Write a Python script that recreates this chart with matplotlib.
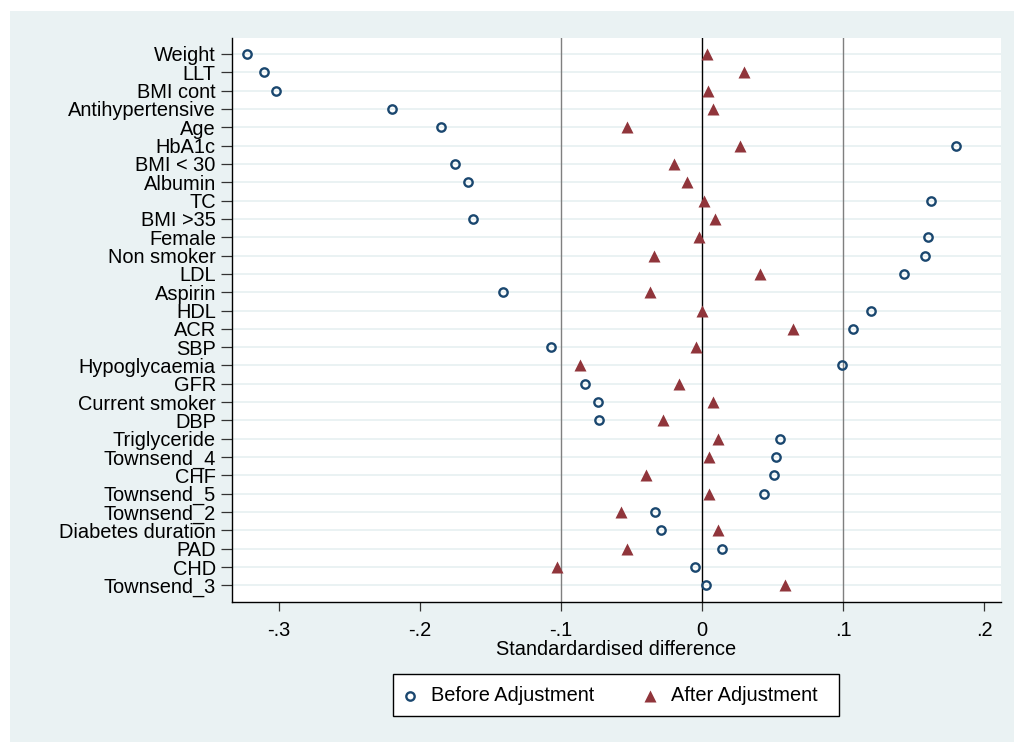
import matplotlib
matplotlib.use("Agg")
import matplotlib.pyplot as plt
from matplotlib.patches import Rectangle
from matplotlib.lines import Line2D

plt.rcParams['font.family'] = ['Liberation Sans', 'DejaVu Sans']

variables = ["Weight", "LLT", "BMI cont", "Antihypertensive", "Age", "HbA1c",
             "BMI < 30", "Albumin", "TC", "BMI >35", "Female", "Non smoker",
             "LDL", "Aspirin", "HDL", "ACR", "SBP", "Hypoglycaemia", "GFR",
             "Current smoker", "DBP", "Triglyceride", "Townsend_4", "CHF",
             "Townsend_5", "Townsend_2", "Diabetes duration", "PAD", "CHD",
             "Townsend_3"]

before_adj = [-0.3227, -0.3106, -0.3019, -0.2201, -0.1850, 0.1798,
              -0.1755, -0.1658, 0.1623, -0.1627, 0.1597, 0.1581,
              0.1429, -0.1415, 0.1198, 0.1070, -0.1075, 0.0990, -0.0831,
              -0.0739, -0.0730, 0.0551, 0.0525, 0.0508,
              0.0437, -0.0333, -0.0291, 0.0142, -0.0050,
              0.0024]

after_adj = [0.0035, 0.0296, 0.0038, 0.0078, -0.0532, 0.0267,
             -0.0201, -0.0108, 0.0012, 0.0090, -0.0026, -0.0340,
             0.0407, -0.0373, -0.0004, 0.0645, -0.0045, -0.0869, -0.0163,
             0.0078, -0.0279, 0.0113, 0.0047, -0.0399,
             0.0047, -0.0574, 0.0113, -0.0532, -0.1028,
             0.0588]

series_names = ["Before Adjustment", "After Adjustment"]

x_ticks = [-0.3, -0.2, -0.1, 0.0, 0.1, 0.2]
x_tick_labels = ["-.3", "-.2", "-.1", "0", ".1", ".2"]

BG = "#EAF2F3"
NAVY = "#1A476F"
MAROON = "#90353B"
FS = 14.4
W, H = 1014, 742

fig = plt.figure(figsize=(W / 100, H / 100), dpi=100, facecolor="white")


def fx(px):
    return px / W


def fy(py):
    return 1 - py / H


# graph region background (leaves a thin white margin top and left)
fig.patches.append(Rectangle((fx(10), 0), 1 - fx(10), fy(11),
                             transform=fig.transFigure, facecolor=BG,
                             edgecolor="none", zorder=-10))

ax = fig.add_axes([fx(231.7), fy(602), fx(769), 564 / H])
ax.set_facecolor("white")

ypos = list(range(len(variables)))

# horizontal grid lines at every category
for y in ypos:
    ax.axhline(y, color=BG, lw=1.4, zorder=1)

# reference lines
ax.axvline(-0.1, color="#7F7F7F", lw=1.0, zorder=2)
ax.axvline(0.1, color="#7F7F7F", lw=1.0, zorder=2)
ax.axvline(0.0, color="black", lw=1.0, zorder=2)

circle_style = dict(linestyle="none", marker="o", ms=6.0, mfc="none",
                    mec=NAVY, mew=1.7)
tri_style = dict(linestyle="none", marker="^", ms=8.2, mfc=MAROON,
                 mec="none")

ax.plot(before_adj, ypos, zorder=3, **circle_style)
ax.plot(after_adj, ypos, zorder=3, **tri_style)

ax.set_xlim(-0.3335, 0.2115)
ax.set_ylim(29.91, -0.873)

ax.set_yticks(ypos)
ax.set_yticklabels(variables, fontsize=FS)
ax.set_xticks(x_ticks)
ax.set_xticklabels(x_tick_labels, fontsize=FS)
ax.tick_params(axis="y", length=7.6, width=0.9, pad=3.8, color="#333333")
ax.tick_params(axis="x", length=6.3, width=0.9, pad=7.2, color="#333333")

for side in ("top", "right"):
    ax.spines[side].set_visible(False)
for side in ("left", "bottom"):
    ax.spines[side].set_color("black")
    ax.spines[side].set_linewidth(1.0)

ax.set_xlabel("Standardardised difference", fontsize=FS, labelpad=0.5)

# legend box below the plot
fig.patches.append(Rectangle((fx(392.7), fy(716)), fx(839 - 392.7),
                             (716 - 674.3) / H, transform=fig.transFigure,
                             facecolor="white", edgecolor="black", lw=1.0,
                             zorder=5))
ly = fy(695.5)
fig.add_artist(Line2D([fx(410)], [ly], transform=fig.transFigure, zorder=6,
                      **circle_style))
fig.text(fx(431), ly, series_names[0], fontsize=FS, ha="left", va="center",
         zorder=6)
fig.add_artist(Line2D([fx(649.7)], [ly], transform=fig.transFigure, zorder=6,
                      **tri_style))
fig.text(fx(670.7), ly, series_names[1], fontsize=FS, ha="left", va="center",
         zorder=6)

fig.savefig("out.png", dpi=100, facecolor="white")
